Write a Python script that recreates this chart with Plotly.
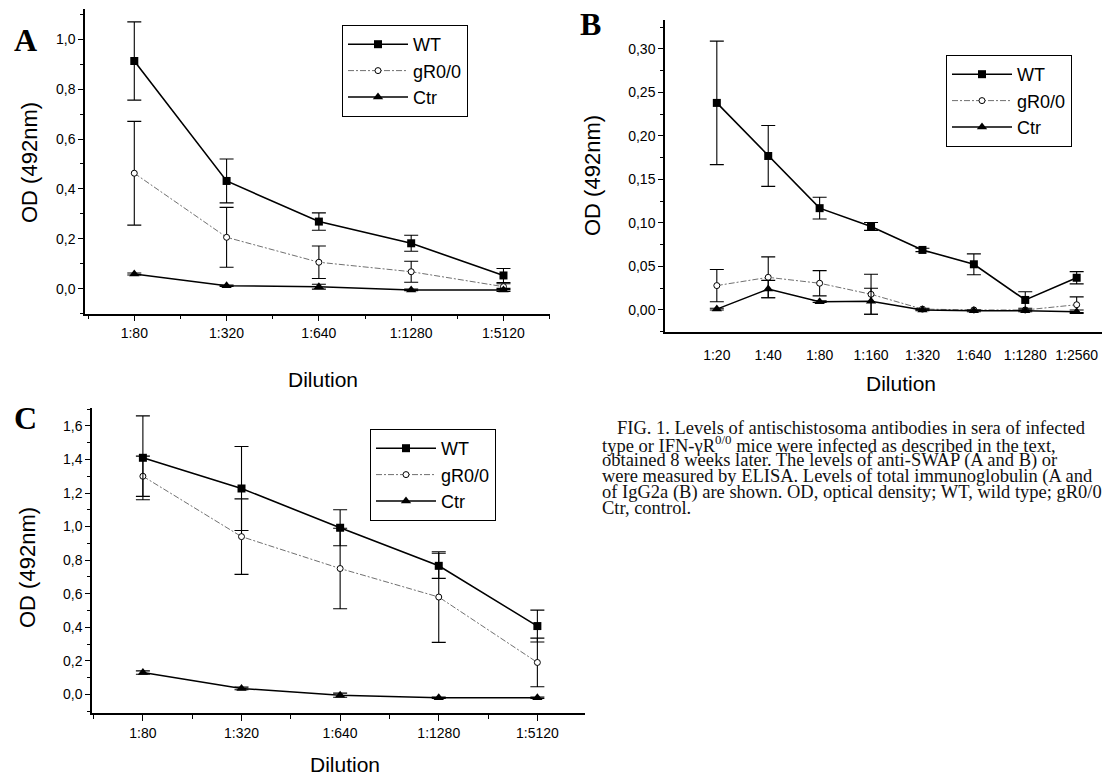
import plotly.graph_objects as go

# page body has an 8px default margin; figure sized so it fills the 1110x778 window
OFF = 8
W, H = 1110 - OFF, 778 - OFF

# ---------------- data ----------------
# Panel A: total immunoglobulin, anti-SWAP
a_cats = ["1:80", "1:320", "1:640", "1:1280", "1:5120"]
a_wt = [0.913, 0.432, 0.269, 0.182, 0.053]
a_wt_err = [0.157, 0.088, 0.035, 0.032, 0.028]
a_gr = [0.463, 0.206, 0.106, 0.068, 0.008]
a_gr_err = [0.208, 0.120, 0.065, 0.042, 0.012]
a_ctr = [0.059, 0.012, 0.008, -0.005, -0.005]
a_ctr_err = [0.004, 0.003, 0.010, 0.003, 0.006]

# Panel B: IgG2a, anti-SWAP
b_cats = ["1:20", "1:40", "1:80", "1:160", "1:320", "1:640", "1:1280", "1:2560"]
b_wt = [0.238, 0.177, 0.117, 0.096, 0.069, 0.0525, 0.0115, 0.037]
b_wt_err = [0.071, 0.035, 0.0125, 0.0045, 0.002, 0.012, 0.0095, 0.007]
b_gr = [0.028, 0.0375, 0.0307, 0.018, 0.001, 0.0, 0.0, 0.006]
b_gr_err = [0.0185, 0.0235, 0.0145, 0.023, 0.001, 0.0, 0.0, 0.009]
b_ctr = [0.001, 0.024, 0.0095, 0.010, 0.0, -0.001, -0.001, -0.002]
b_ctr_err = [0.001, 0.010, 0.001, 0.015, 0.001, 0.001, 0.001, 0.002]

# Panel C: total immunoglobulin, anti-SEA
c_cats = ["1:80", "1:320", "1:640", "1:1280", "1:5120"]
c_wt = [1.41, 1.227, 0.993, 0.766, 0.407]
c_wt_err = [0.25, 0.25, 0.107, 0.075, 0.095]
c_gr = [1.30, 0.94, 0.75, 0.58, 0.19]
c_gr_err = [0.12, 0.225, 0.24, 0.27, 0.145]
c_ctr = [0.13, 0.035, -0.005, -0.02, -0.02]
c_ctr_err = [0.01, 0.008, 0.012, 0.004, 0.004]

series_names = ["WT", "gR0/0", "Ctr"]

caption = [
    "FIG. 1. Levels of antischistosoma antibodies in sera of infected",
    "type or IFN-γR<sup>0/0</sup> mice were infected as described in the text,",
    "obtained 8 weeks later. The levels of anti-SWAP (A and B) or",
    "were measured by ELISA. Levels of total immunoglobulin (A and",
    "of IgG2a (B) are shown. OD, optical density; WT, wild type; gR0/0",
    "Ctr, control.",
]

# ---------------- figure ----------------
fig = go.Figure()

TICKFONT = dict(family="Liberation Sans, Arial, sans-serif", size=14, color="black")
LEGFONT = dict(family="Liberation Sans, Arial, sans-serif", size=18, color="black")


def px_x(p):
    return (p - OFF) / W


def px_y(p):
    return 1 - (p - OFF) / H


def add_panel(cats, wt, wt_e, gr, gr_e, ctr, ctr_e, xa, ya, leg):
    x = list(range(len(cats)))
    eb = lambda e: dict(type="data", array=e, visible=True, color="black", thickness=1.1, width=7)
    fig.add_trace(go.Scatter(
        x=x, y=gr, name=series_names[1], mode="lines+markers", xaxis=xa, yaxis=ya, legend=leg,
        legendrank=2, legendgroup=leg + "g",
        line=dict(color="#707070", width=1, dash="6px,2px,2px,2px"),
        marker=dict(symbol="circle", size=6, color="white", line=dict(color="black", width=1)),
        error_y=eb(gr_e), cliponaxis=False))
    fig.add_trace(go.Scatter(
        x=x, y=ctr, name=series_names[2], mode="lines+markers", xaxis=xa, yaxis=ya, legend=leg,
        legendrank=3, legendgroup=leg + "c",
        line=dict(color="black", width=1.5),
        marker=dict(symbol="triangle-up", size=9, color="black"),
        error_y=eb(ctr_e), cliponaxis=False))
    fig.add_trace(go.Scatter(
        x=x, y=wt, name=series_names[0], mode="lines+markers", xaxis=xa, yaxis=ya, legend=leg,
        legendrank=1, legendgroup=leg + "w",
        line=dict(color="black", width=1.6),
        marker=dict(symbol="square", size=8, color="black"),
        error_y=eb(wt_e), cliponaxis=False))


add_panel(a_cats, a_wt, a_wt_err, a_gr, a_gr_err, a_ctr, a_ctr_err, "x", "y", "legend")
add_panel(b_cats, b_wt, b_wt_err, b_gr, b_gr_err, b_ctr, b_ctr_err, "x2", "y2", "legend2")
add_panel(c_cats, c_wt, c_wt_err, c_gr, c_gr_err, c_ctr, c_ctr_err, "x3", "y3", "legend3")


def xaxis(dom, rng, cats, ticks=True):
    d = dict(domain=[px_x(dom[0]), px_x(dom[1])], range=rng, tickmode="array",
             tickvals=list(range(len(cats))), ticktext=cats, showline=True, linecolor="black",
             linewidth=1.5, showgrid=False, zeroline=False, tickfont=TICKFONT, fixedrange=True)
    if ticks:
        d.update(ticks="outside", ticklen=6, tickwidth=1.2, tickcolor="black",
                 minor=dict(tickmode="linear", tick0=-0.5, dtick=1, ticks="outside", ticklen=4,
                            tickwidth=1, tickcolor="black"))
    else:
        d.update(ticks="", ticklabelstandoff=10)
    return d


def yaxis(dom, rng, dtick, mdtick, fmt):
    return dict(domain=[px_y(dom[1]), px_y(dom[0])], range=rng, tickmode="linear", tick0=0,
                dtick=dtick, tickformat=fmt, ticks="outside", ticklen=5, tickwidth=1.2,
                tickcolor="black", showline=True, linecolor="black", linewidth=1.5,
                showgrid=False, zeroline=False, tickfont=TICKFONT, fixedrange=True,
                minor=dict(tickmode="linear", tick0=0, dtick=mdtick, ticks="outside", ticklen=3,
                           tickwidth=1, tickcolor="black"))


def legend(x0, y0):
    return dict(x=px_x(x0), y=px_y(y0), xanchor="left", yanchor="top", bordercolor="black",
                borderwidth=1, bgcolor="white", font=LEGFONT, itemwidth=60, tracegroupgap=5,
                traceorder="normal")


fig.update_layout(
    width=W, height=H, margin=dict(l=0, r=0, t=0, b=0), paper_bgcolor="white",
    plot_bgcolor="rgba(0,0,0,0)", separators=", ", showlegend=True,
    xaxis=dict(xaxis((85, 550), [-0.534, 4.504], a_cats), anchor="y"),
    yaxis=dict(yaxis((9.4, 313.6), [-0.1, 1.12], 0.2, 0.1, ".1f"), anchor="x"),
    xaxis2=dict(xaxis((665, 1107), [-1.008, 7.59], b_cats, ticks=False), anchor="y2"),
    yaxis2=dict(yaxis((20, 331.7), [-0.025, 0.3333], 0.05, 0.025, ".2f"), anchor="x2"),
    xaxis3=dict(xaxis((92, 585), [-0.516, 4.483], c_cats), anchor="y3"),
    yaxis3=dict(yaxis((408.3, 713.3), [-0.113, 1.705], 0.2, 0.1, ".1f"), anchor="x3"),
    legend=legend(342, 25),
    legend2=legend(946, 55),
    legend3=legend(370, 429),
)

ann = []
LETTER = dict(family="Liberation Serif, Times New Roman, serif", size=32, color="black")
for t, x, y in [("<b>A</b>", 25, 40), ("<b>B</b>", 590, 24), ("<b>C</b>", 25, 418)]:
    ann.append(dict(text=t, x=px_x(x), y=px_y(y), xref="paper", yref="paper", showarrow=False,
                    xanchor="center", yanchor="middle", font=LETTER))

TITLEFONT = dict(family="Liberation Sans, Arial, sans-serif", size=22, color="black")
for x, y in [(29, 163), (593, 176), (27, 568)]:
    ann.append(dict(text="OD (492nm)", x=px_x(x), y=px_y(y), xref="paper", yref="paper",
                    showarrow=False, textangle=-90, xanchor="center", yanchor="middle",
                    font=TITLEFONT))
for x, y in [(323, 379), (901, 383), (345, 764)]:
    ann.append(dict(text="Dilution", x=px_x(x), y=px_y(y), xref="paper", yref="paper",
                    showarrow=False, xanchor="center", yanchor="middle",
                    font=dict(family="Liberation Sans, Arial, sans-serif", size=21, color="black")))

CAPFONT = dict(family="Liberation Serif, Times New Roman, serif", size=18.5, color="#111")
for i, t in enumerate(caption):
    x = 615 if i == 0 else 600
    ann.append(dict(text=t, x=px_x(x), y=px_y(428 + 16 * i), xref="paper", yref="paper",
                    showarrow=False, xanchor="left", yanchor="middle", font=CAPFONT))

fig.update_layout(annotations=ann)

fig.write_html("out.html")
